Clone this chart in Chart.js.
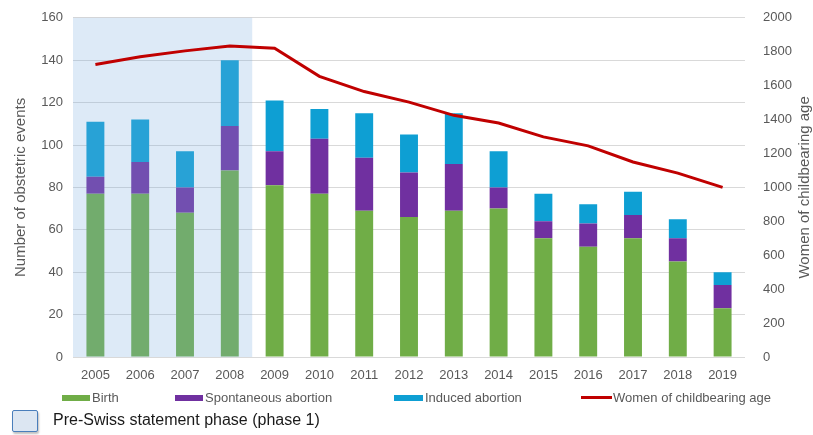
<!DOCTYPE html>
<html>
<head>
<meta charset="utf-8">
<script src="https://cdn.jsdelivr.net/npm/chart.js@4"></script>
<style>
  body { margin: 0; background: #fff; font-family: "Liberation Sans", Arial, sans-serif; }
  #wrap { position: relative; width: 813px; height: 435px; }
  .lg { position: absolute; font-size: 13px; color: #595959; line-height: 14px; white-space: nowrap; }
  .sw { position: absolute; }
  #phase { position: absolute; left: 12px; top: 410px; width: 24px; height: 20px; background: #dce6f2;
           border: 1.5px solid #4a7ebb; border-radius: 2px; box-shadow: 1px 2px 2px rgba(0,0,0,0.25); }
  #phaseTxt { position: absolute; left: 53px; top: 411px; font-size: 16px; color: #1a1a1a; white-space: nowrap; }
</style>
</head>
<body>
<div id="wrap">
  <canvas id="chart" width="813" height="435"></canvas>
  <div class="sw" style="left:62px;top:395px;width:28px;height:6px;background:#70ad47"></div>
  <div class="lg" style="left:92px;top:391px">Birth</div>
  <div class="sw" style="left:175px;top:395px;width:28px;height:6px;background:#7030a0"></div>
  <div class="lg" style="left:205px;top:391px">Spontaneous abortion</div>
  <div class="sw" style="left:394px;top:395px;width:29px;height:6px;background:#0e9fd3"></div>
  <div class="lg" style="left:425px;top:391px">Induced abortion</div>
  <div class="sw" style="left:581px;top:396px;width:31px;height:3px;background:#c00000"></div>
  <div class="lg" style="left:613px;top:391px">Women of childbearing age</div>
  <div id="phase"></div>
  <div id="phaseTxt">Pre-Swiss statement phase (phase 1)</div>
</div>
<script>
// data
const years = ['2005', '2006', '2007', '2008', '2009', '2010', '2011', '2012', '2013', '2014', '2015', '2016', '2017', '2018', '2019'];
const birth = [77, 77, 68, 88, 81, 77, 69, 66, 69, 70, 56, 52, 56, 45, 23];
const spontaneous = [8, 15, 12, 21, 16, 26, 25, 21, 22, 10, 8, 11, 11, 11, 11];
const induced = [26, 20, 17, 31, 24, 14, 21, 18, 24, 17, 13, 9, 11, 9, 6];
const women = [1725, 1770, 1805, 1834, 1820, 1655, 1565, 1503, 1425, 1380, 1298, 1245, 1150, 1084, 1000];
const phase1Count = 4; // 2005-2008
const rightTitle = 'Women of childbearing age';

// shaded phase 1 region, drawn over bars but under the line
const phasePlugin = {
    id: 'phase',
    beforeDatasetDraw(chart, args) {
        if (args.meta.type !== 'line') return;
        const x = chart.scales.x;
        const area = chart.chartArea;
        const step = x.getPixelForValue(1) - x.getPixelForValue(0);
        const right = x.getPixelForValue(phase1Count - 1) + step / 2;
        const ctx = chart.ctx;
        ctx.save();
        ctx.fillStyle = 'rgba(120, 170, 225, 0.25)';
        ctx.fillRect(area.left, area.top, right - area.left, area.bottom - area.top);
        ctx.restore();
    }
};

// right axis title reads bottom-to-top like the left one
const rightTitlePlugin = {
    id: 'rightTitle',
    afterDraw(chart) {
        const area = chart.chartArea;
        const ctx = chart.ctx;
        ctx.save();
        ctx.translate(805, (area.top + area.bottom) / 2);
        ctx.rotate(-Math.PI / 2);
        ctx.font = '15px "Liberation Sans"';
        ctx.fillStyle = '#595959';
        ctx.textAlign = 'center';
        ctx.textBaseline = 'middle';
        ctx.fillText(rightTitle, 0, 0);
        ctx.restore();
    }
};

const tickFont = { family: 'Liberation Sans', size: 13 };
const titleFont = { family: 'Liberation Sans', size: 15 };

new Chart(document.getElementById('chart').getContext('2d'), {
    type: 'bar',
    data: {
        labels: years,
        datasets: [
            {
                type: 'line',
                label: rightTitle,
                data: women,
                yAxisID: 'y1',
                borderColor: '#c00000',
                borderWidth: 3,
                pointRadius: 0,
                tension: 0,
                order: 0
            },
            { label: 'Birth', data: birth, backgroundColor: '#70ad47', order: 1 },
            { label: 'Spontaneous abortion', data: spontaneous, backgroundColor: '#7030a0', order: 1 },
            { label: 'Induced abortion', data: induced, backgroundColor: '#0e9fd3', order: 1 }
        ]
    },
    options: {
        responsive: false,
        animation: false,
        datasets: { bar: { categoryPercentage: 1, barPercentage: 0.4 } },
        layout: { padding: { top: 0, right: 0, bottom: 50, left: 0 } },
        plugins: {
            legend: { display: false },
            tooltip: { enabled: false }
        },
        scales: {
            x: {
                stacked: true,
                grid: { display: false },
                border: { display: false },
                ticks: { color: '#595959', font: tickFont, padding: 3 },
                afterFit(scale) { scale.height = 28; }
            },
            y: {
                stacked: true,
                position: 'left',
                min: 0,
                max: 160,
                ticks: { stepSize: 20, color: '#595959', font: tickFont, padding: 10 },
                grid: { color: '#d9d9d9', drawTicks: false },
                border: { display: false },
                title: { display: true, text: 'Number of obstetric events', color: '#595959', font: titleFont, padding: { top: 12, bottom: 0 } },
                afterFit(scale) { scale.width = 73; }
            },
            y1: {
                position: 'right',
                min: 0,
                max: 2000,
                ticks: { stepSize: 200, color: '#595959', font: tickFont, padding: 10, callback: v => String(v) },
                grid: { display: false },
                border: { display: false },
                afterFit(scale) { scale.width = 68; }
            }
        }
    },
    plugins: [phasePlugin, rightTitlePlugin]
});
</script>
</body>
</html>
